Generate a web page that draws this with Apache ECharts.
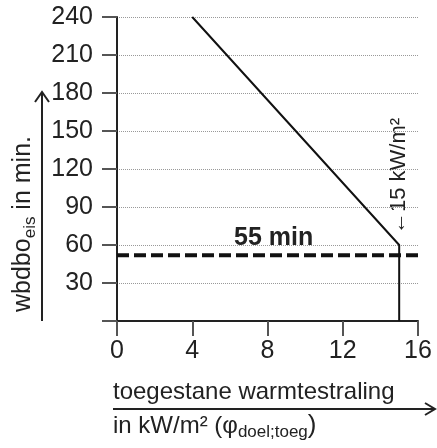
<!DOCTYPE html>
<html>
<head>
<meta charset="utf-8">
<script src="https://cdn.jsdelivr.net/npm/echarts@6/dist/echarts.min.js"></script>
<style>
	html, body { margin: 0; padding: 0; background: #fff; }
	#chart { width: 437px; height: 448px; }
</style>
</head>
<body>
<div id="chart"></div>
<script>
// curve: required fire resistance vs allowed heat radiation
const curveX = [4, 15, 15]
const curveY = [240, 60, 0]
// 55 min reference line (drawn slightly below 60)
const refX = [0, 16]
const refY = [52, 52]
const xTicks = [0, 4, 8, 12, 16]
const yTicks = [30, 60, 90, 120, 150, 180, 210, 240]

const font = 'Liberation Sans, Arial, sans-serif'
const myChart = echarts.init(document.getElementById('chart'))

const options = {
	animation: false,
	grid: { left: 117, right: 19, top: 17, bottom: 127 },
	xAxis: {
		type: 'value',
		min: 0,
		max: 16,
		interval: 4,
		axisLine: { show: true, lineStyle: { color: '#222', width: 2 } },
		axisTick: { show: true, length: 15, lineStyle: { color: '#555', width: 2 } },
		axisLabel: {
			color: '#222',
			fontSize: 25,
			fontFamily: font,
			margin: 18,
			formatter: (v) => (xTicks.includes(v) ? String(v) : ''),
		},
		splitLine: { show: false },
	},
	yAxis: {
		type: 'value',
		min: 0,
		max: 240,
		interval: 30,
		axisLine: { show: true, lineStyle: { color: '#222', width: 2 } },
		axisTick: { show: true, length: 15, lineStyle: { color: '#555', width: 2 } },
		axisLabel: {
			color: '#222',
			fontSize: 25,
			fontFamily: font,
			margin: 24,
			formatter: (v) => (yTicks.includes(v) ? String(v) : ''),
		},
		splitLine: {
			show: true,
			lineStyle: { color: '#999', width: 1, type: [1, 1] },
		},
	},
	series: [
		{
			type: 'line',
			data: refX.map((x, i) => [x, refY[i]]),
			symbol: 'none',
			lineStyle: { color: '#111', width: 4, type: [12, 5] },
			z: 3,
		},
		{
			type: 'line',
			data: curveX.map((x, i) => [x, curveY[i]]),
			symbol: 'none',
			lineStyle: { color: '#111', width: 2 },
			z: 4,
		},
	],
	graphic: [
		{
			type: 'text',
			left: 234,
			top: 226,
			style: {
				text: '55 min',
				font: 'bold 25px ' + font,
				fill: '#222',
			},
		},
		{
			type: 'text',
			x: 399,
			y: 176,
			rotation: Math.PI / 2,
			style: {
				text: '\u219015 kW/m\u00b2',
				font: '22px ' + font,
				fill: '#222',
				align: 'center',
				verticalAlign: 'middle',
			},
		},
		// y axis title
		{
			type: 'text',
			x: 23,
			y: 224,
			rotation: Math.PI / 2,
			style: {
				text: '{n|wbdbo}{s|eis}{n| in min.}',
				align: 'center',
				verticalAlign: 'middle',
				rich: {
					n: { fontSize: 25, fontFamily: font, fill: '#222' },
					s: { fontSize: 17, fontFamily: font, fill: '#222', padding: [14, 0, 0, 0] },
				},
			},
		},
		{
			type: 'polyline',
			shape: { points: [[42, 321], [42, 92]] },
			style: { stroke: '#222', lineWidth: 2, fill: null },
		},
		{
			type: 'polyline',
			shape: { points: [[35, 102], [42, 92], [49, 102]] },
			style: { stroke: '#222', lineWidth: 2, fill: null },
		},
		// x axis title
		{
			type: 'text',
			x: 113,
			y: 392,
			style: {
				text: 'toegestane warmtestraling',
				font: '24px ' + font,
				fill: '#222',
				align: 'left',
				verticalAlign: 'middle',
			},
		},
		{
			type: 'polyline',
			shape: { points: [[113, 409], [434, 409]] },
			style: { stroke: '#222', lineWidth: 2, fill: null },
		},
		{
			type: 'polyline',
			shape: { points: [[425, 403], [435, 409], [425, 415]] },
			style: { stroke: '#222', lineWidth: 2, fill: null },
		},
		{
			type: 'text',
			x: 113,
			y: 426,
			style: {
				text: '{n|in kW/m\u00b2 (\u03c6}{s|doel;toeg}{p|)}',
				align: 'left',
				verticalAlign: 'middle',
				rich: {
					n: { fontSize: 24, fontFamily: font, fill: '#222' },
					s: { fontSize: 17, fontFamily: font, fill: '#222', padding: [12, 0, 0, 0] },
					p: { fontSize: 26, fontFamily: font, fill: '#222' },
				},
			},
		},
	],
}
myChart.setOption(options)
</script>
</body>
</html>
